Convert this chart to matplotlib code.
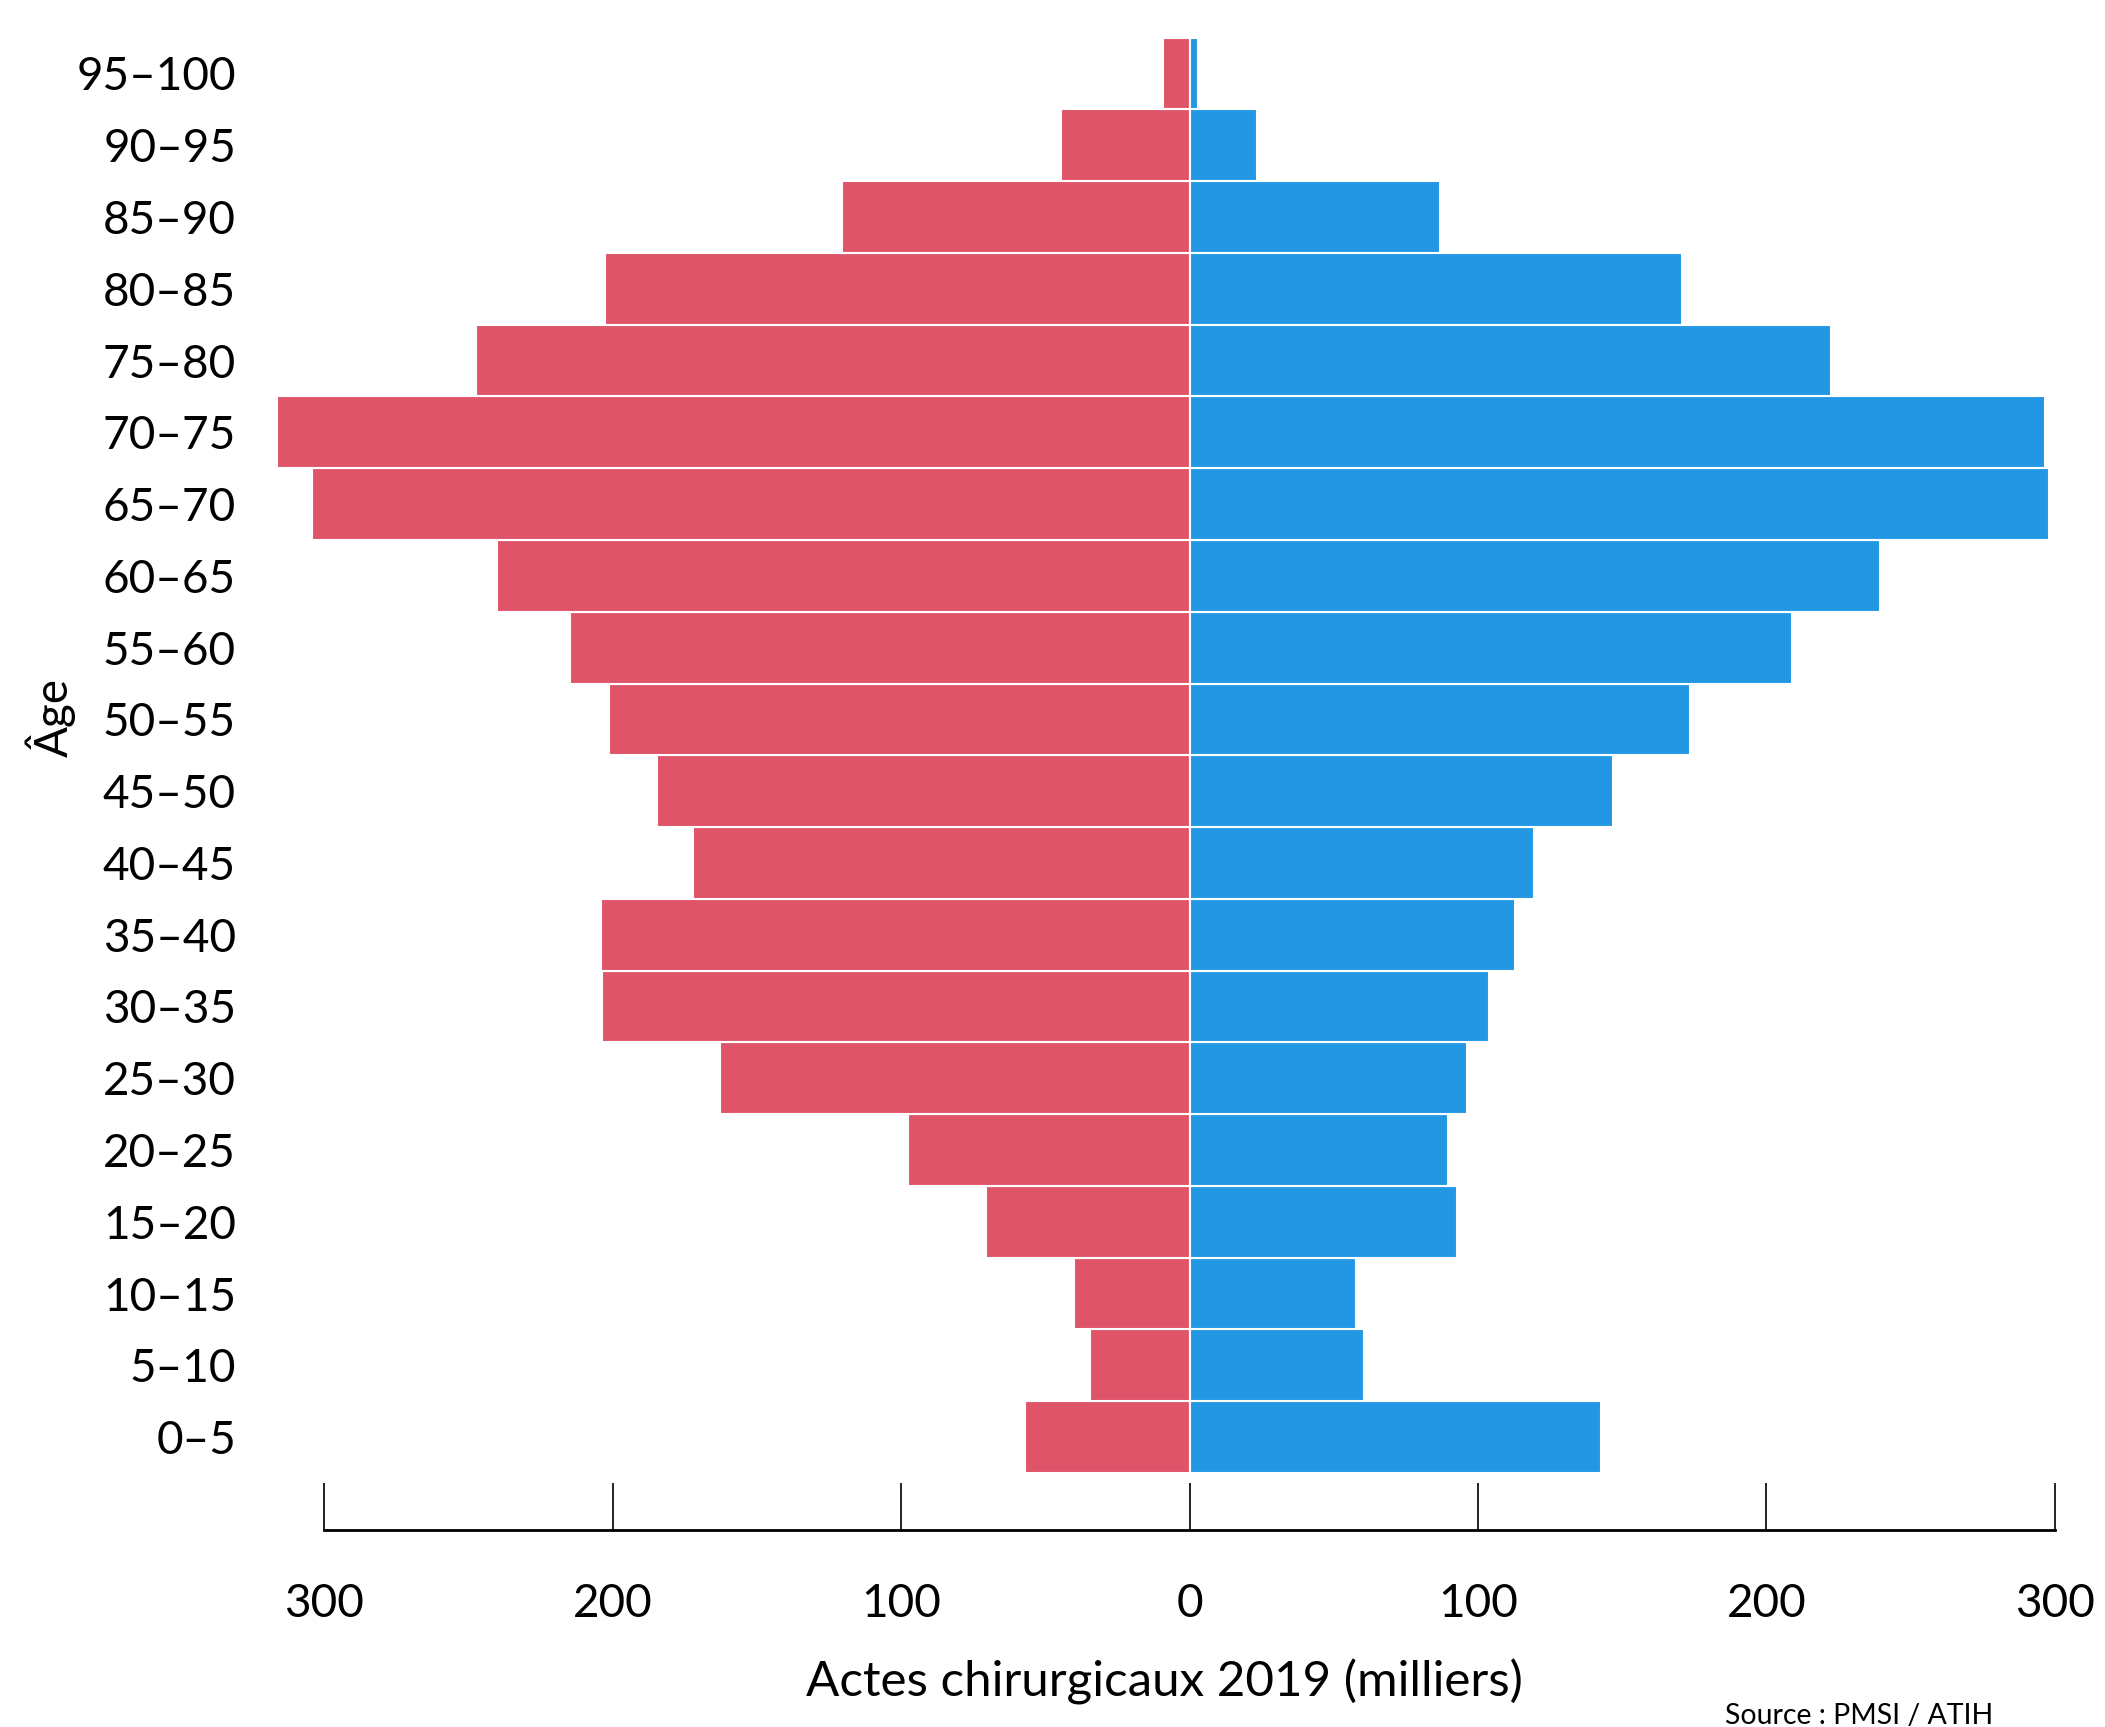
import matplotlib
matplotlib.use("Agg")
import matplotlib.pyplot as plt
import numpy as np

plt.rcParams['font.family'] = ['Lato', 'DejaVu Sans']

age_groups = ["0–5", "5–10", "10–15", "15–20", "20–25", "25–30", "30–35", "35–40",
              "40–45", "45–50", "50–55", "55–60", "60–65", "65–70", "70–75", "75–80",
              "80–85", "85–90", "90–95", "95–100"]
femmes = [57.2, 34.4, 40.0, 70.7, 97.7, 162.8, 203.7, 204.2, 172.1, 184.7,
          201.4, 214.9, 240.0, 304.2, 316.3, 247.4, 202.8, 120.5, 44.7, 9.3]
hommes = [142.8, 60.5, 57.7, 92.6, 89.8, 96.3, 103.7, 113.0, 119.5, 147.0,
          173.5, 208.8, 239.5, 298.1, 296.7, 222.3, 170.7, 87.0, 23.3, 2.8]
xticks = [-300, -200, -100, 0, 100, 200, 300]
xticklabels = ["300", "200", "100", "0", "100", "200", "300"]

red = "#E0546A"
blue = "#2397E4"

W, H = 2105, 1727
fig = plt.figure(figsize=(W / 100, H / 100), dpi=100)
xmin, xmax = -320, 305
px_per = (2054 - 323.5) / 600.0
left_px = 1189.5 + xmin * px_per
right_px = 1189.5 + xmax * px_per
top_px, bot_px = 37.6, 1473
ax = fig.add_axes([left_px / W, (H - bot_px) / H, (right_px - left_px) / W, (bot_px - top_px) / H])

y = np.arange(len(age_groups))
ax.barh(y, [-v for v in femmes], height=1.0, color=red, edgecolor="white", linewidth=1.5)
ax.barh(y, hommes, height=1.0, color=blue, edgecolor="white", linewidth=1.5)

ax.set_xlim(xmin, xmax)
ax.set_ylim(-0.5, len(age_groups) - 0.5)
ax.set_yticks(y)
ax.set_yticklabels(age_groups)
ax.tick_params(axis='y', length=0, pad=22, labelsize=33)
ax.set_xticks(xticks)
ax.set_xticklabels(xticklabels)
ax.tick_params(axis='x', direction='in', length=34, width=1.2, pad=38, labelsize=33)

for s in ['top', 'right', 'left']:
    ax.spines[s].set_visible(False)
ax.spines['bottom'].set_position(('outward', 41))
ax.spines['bottom'].set_bounds(-300, 300)
ax.spines['bottom'].set_linewidth(2)

ax.set_xlabel("Actes chirurgicaux 2019 (milliers)", fontsize=35.5)
ax.set_ylabel("Âge", fontsize=33)
ax.yaxis.set_label_coords(-0.1196, 0.526)
ax.xaxis.set_label_coords((1164 - left_px) / (right_px - left_px), -(1682 - bot_px) / (bot_px - top_px))
ax.xaxis.label.set_va('center')
ax.yaxis.label.set_va('center')

fig.text(1725 / W, 1 - 1716 / H, "Source : PMSI / ATIH", fontsize=20.5, ha='left', va='center')

fig.savefig("out.png", dpi=100)
